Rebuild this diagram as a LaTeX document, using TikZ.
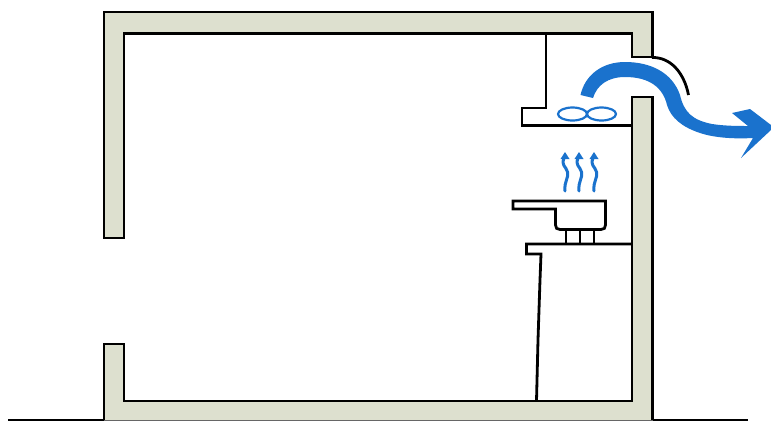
\documentclass[tikz,border=0pt]{standalone}
\definecolor{wallfill}{HTML}{DDE0CF}
\definecolor{airblue}{HTML}{1A72CD}
\tikzset{
  wall/.style={fill=wallfill,draw=black,line width=2.5pt,line join=miter},
  fixture/.style={draw=black,line width=2.8pt,line join=miter},
  thinline/.style={draw=black,line width=1.2pt},
  flow/.style={fill=airblue,draw=none},
  fan/.style={draw=airblue,line width=2.2pt},
  steam/.style={draw=airblue,line width=3pt,line cap=round}
}
\begin{document}
\begin{tikzpicture}[x=1pt,y=-1pt]
\useasboundingbox (0,0) rectangle (771,421);
% ground
\draw[thinline] (8,420) -- (104,420);
\draw[thinline] (652.5,420) -- (748,420);
% walls: upper part
\draw[wall] (104,238) -- (104,12) -- (652.5,12) -- (652.5,57) -- (632,57) -- (632,33.5) -- (124,33.5) -- (124,238) -- cycle;
% walls: lower part (fill then outline)
\fill[wallfill] (104,344) -- (124,344) -- (124,401) -- (632,401) -- (632,97) -- (652.5,97) -- (652.5,420) -- (104,420) -- cycle;
\draw[wall,fill=none] (104,420) -- (104,344) -- (124,344) -- (124,401) -- (632,401) -- (632,97) -- (652.5,97) -- (652.5,420);
\draw[draw=black!60,line width=1pt] (104,420) -- (652.5,420);
% hood
\draw[fixture] (546,33.5) -- (546,108) -- (522,108) -- (522,125.5) -- (632,125.5);
% outlet flap
\draw[fixture] (652,57.5) .. controls (670,57) and (684,72) .. (688.5,95);
% counter
\draw[fixture] (632,244) -- (526.5,244) -- (526.5,254) -- (541,254) -- (540,280) -- (538,340) -- (536.5,401);
% pan
\draw[fixture] (513,201) -- (605.5,201) -- (605.5,225) .. controls (605.5,228) and (604,229.5) .. (601,229.5)
  -- (560,229.5) .. controls (557,229.5) and (555.5,228) .. (555.5,225) -- (555.5,209) -- (513,209) -- cycle;
\draw[fixture] (566,230) -- (566,244) (580,230) -- (580,244) (594,230) -- (594,244);
% fan
\draw[fan] (572.5,114) ellipse [x radius=14.5,y radius=6.5];
\draw[fan] (601.5,114) ellipse [x radius=14.5,y radius=6.5];
% air flow
\fill[flow] (580.5,95)
  .. controls (585,75) and (602,62) .. (625,62)
  .. controls (650,62) and (672,72) .. (680,95)
  .. controls (684,112) and (692,120) .. (712,124)
  .. controls (725,126) and (738,126) .. (748,126)
  -- (732,113) -- (750,109) -- (771,125) -- (771,130) -- (741,158) -- (753,138)
  .. controls (735,139) and (715,138) .. (700,133)
  .. controls (682,127) and (671,118) .. (667,105)
  .. controls (663,88) and (650,77) .. (625,77)
  .. controls (608,77) and (597,85) .. (593,98)
  -- cycle;
% steam
\foreach \x in {565,579,594}{
  \draw[steam] (\x,191) .. controls (\x-1,181) and (\x+4,178) .. (\x+2.5,172)
    .. controls (\x+1,166) and (\x-4,166) .. (\x-1,158);
  \fill[airblue] (\x,152) -- (\x+4.5,159) -- (\x-4.5,159) -- cycle;
}
\end{tikzpicture}
\end{document}
